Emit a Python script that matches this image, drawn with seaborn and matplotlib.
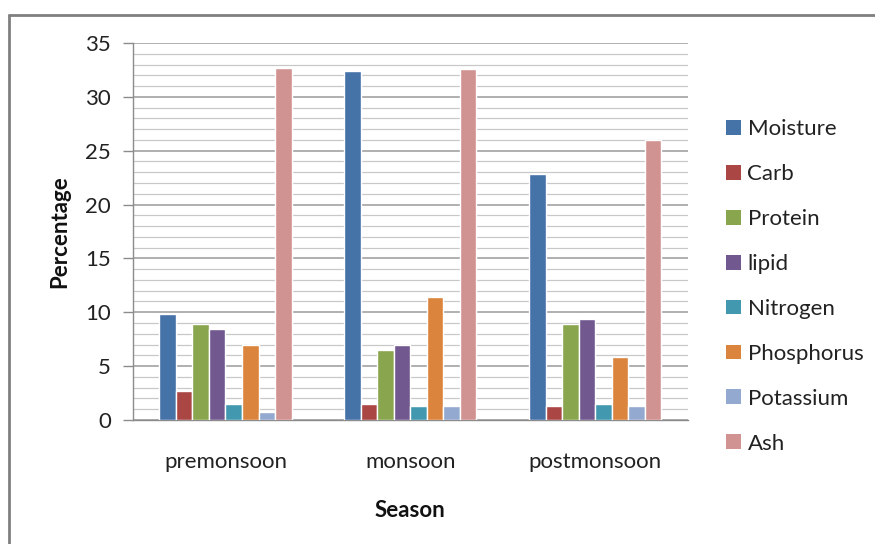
import matplotlib
matplotlib.use("Agg")
import matplotlib.pyplot as plt
from matplotlib.lines import Line2D
from matplotlib.patches import Patch
import seaborn as sns
import pandas as pd

seasons = ["premonsoon", "monsoon", "postmonsoon"]
components = ["Moisture", "Carb", "Protein", "lipid", "Nitrogen",
              "Phosphorus", "Potassium", "Ash"]
moisture = [9.8, 32.4, 22.8]
carb = [2.7, 1.5, 1.3]
protein = [8.9, 6.5, 8.9]
lipid = [8.45, 7.0, 9.35]
nitrogen = [1.5, 1.3, 1.5]
phosphorus = [7.0, 11.4, 5.8]
potassium = [0.75, 1.3, 1.3]
ash = [32.7, 32.6, 26.0]

series = [moisture, carb, protein, lipid, nitrogen, phosphorus, potassium, ash]
colors = ["#4572A7", "#AA4643", "#89A54E", "#71588F", "#4198AF",
          "#DB843D", "#93A9CF", "#D19392"]

rows = []
for comp, vals in zip(components, series):
    for s, v in zip(seasons, vals):
        rows.append({"Season": s, "Component": comp, "Percentage": v})
df = pd.DataFrame(rows)

sns.set_theme(style="white")
plt.rcParams["font.family"] = ["Lato", "DejaVu Sans"]

fig = plt.figure(figsize=(8.75, 5.44), dpi=100)
ax = fig.add_axes([0.152, 0.228, 0.634, 0.693])

sns.barplot(data=df, x="Season", y="Percentage", hue="Component",
            order=seasons, hue_order=components, palette=colors,
            width=0.715, gap=0, saturation=1, errorbar=None,
            legend=False, ax=ax, zorder=3)

ax.set_ylim(0, 35)
ax.set_xlim(-0.5, 2.5)
ax.set_yticks(range(0, 36, 5))
ax.set_yticks(range(0, 36, 1), minor=True)
ax.grid(True, which="major", axis="y", color="#9a9a9a", linewidth=1.1, zorder=0)
ax.grid(True, which="minor", axis="y", color="#c8c8c8", linewidth=0.9, zorder=0)
ax.set_axisbelow(True)

for side in ["top", "right"]:
    ax.spines[side].set_visible(False)
for side in ["left", "bottom"]:
    ax.spines[side].set_color("#8c8c8c")
    ax.spines[side].set_linewidth(1.0)

ax.tick_params(axis="y", which="major", left=True, length=7, width=1,
               color="#8c8c8c", labelsize=16, pad=9, labelcolor="#222222")
ax.tick_params(axis="y", which="minor", left=False)
ax.tick_params(axis="x", bottom=False, labelsize=16, pad=17, labelcolor="#222222")

ax.set_ylabel("Percentage", fontsize=16, fontweight="bold", labelpad=11, color="#111111")
ax.set_xlabel("Season", fontsize=16, fontweight="bold", labelpad=20, color="#111111")

handles = [Patch(facecolor=c, edgecolor="none") for c in colors]
fig.legend(handles, components, loc="upper left",
           bbox_to_anchor=(0.82, 0.797), frameon=False, fontsize=16,
           handlelength=0.65, handleheight=0.65, handletextpad=0.3,
           labelspacing=1.12, borderaxespad=0, labelcolor="#222222")

# outer frame on top and left edges
fig.add_artist(Line2D([0.0105, 1.0], [0.972, 0.972], transform=fig.transFigure,
                      color="#808080", linewidth=2))
fig.add_artist(Line2D([0.0105, 0.0105], [0.0, 0.972], transform=fig.transFigure,
                      color="#808080", linewidth=2))

fig.savefig("out.png", dpi=100, facecolor="white")
